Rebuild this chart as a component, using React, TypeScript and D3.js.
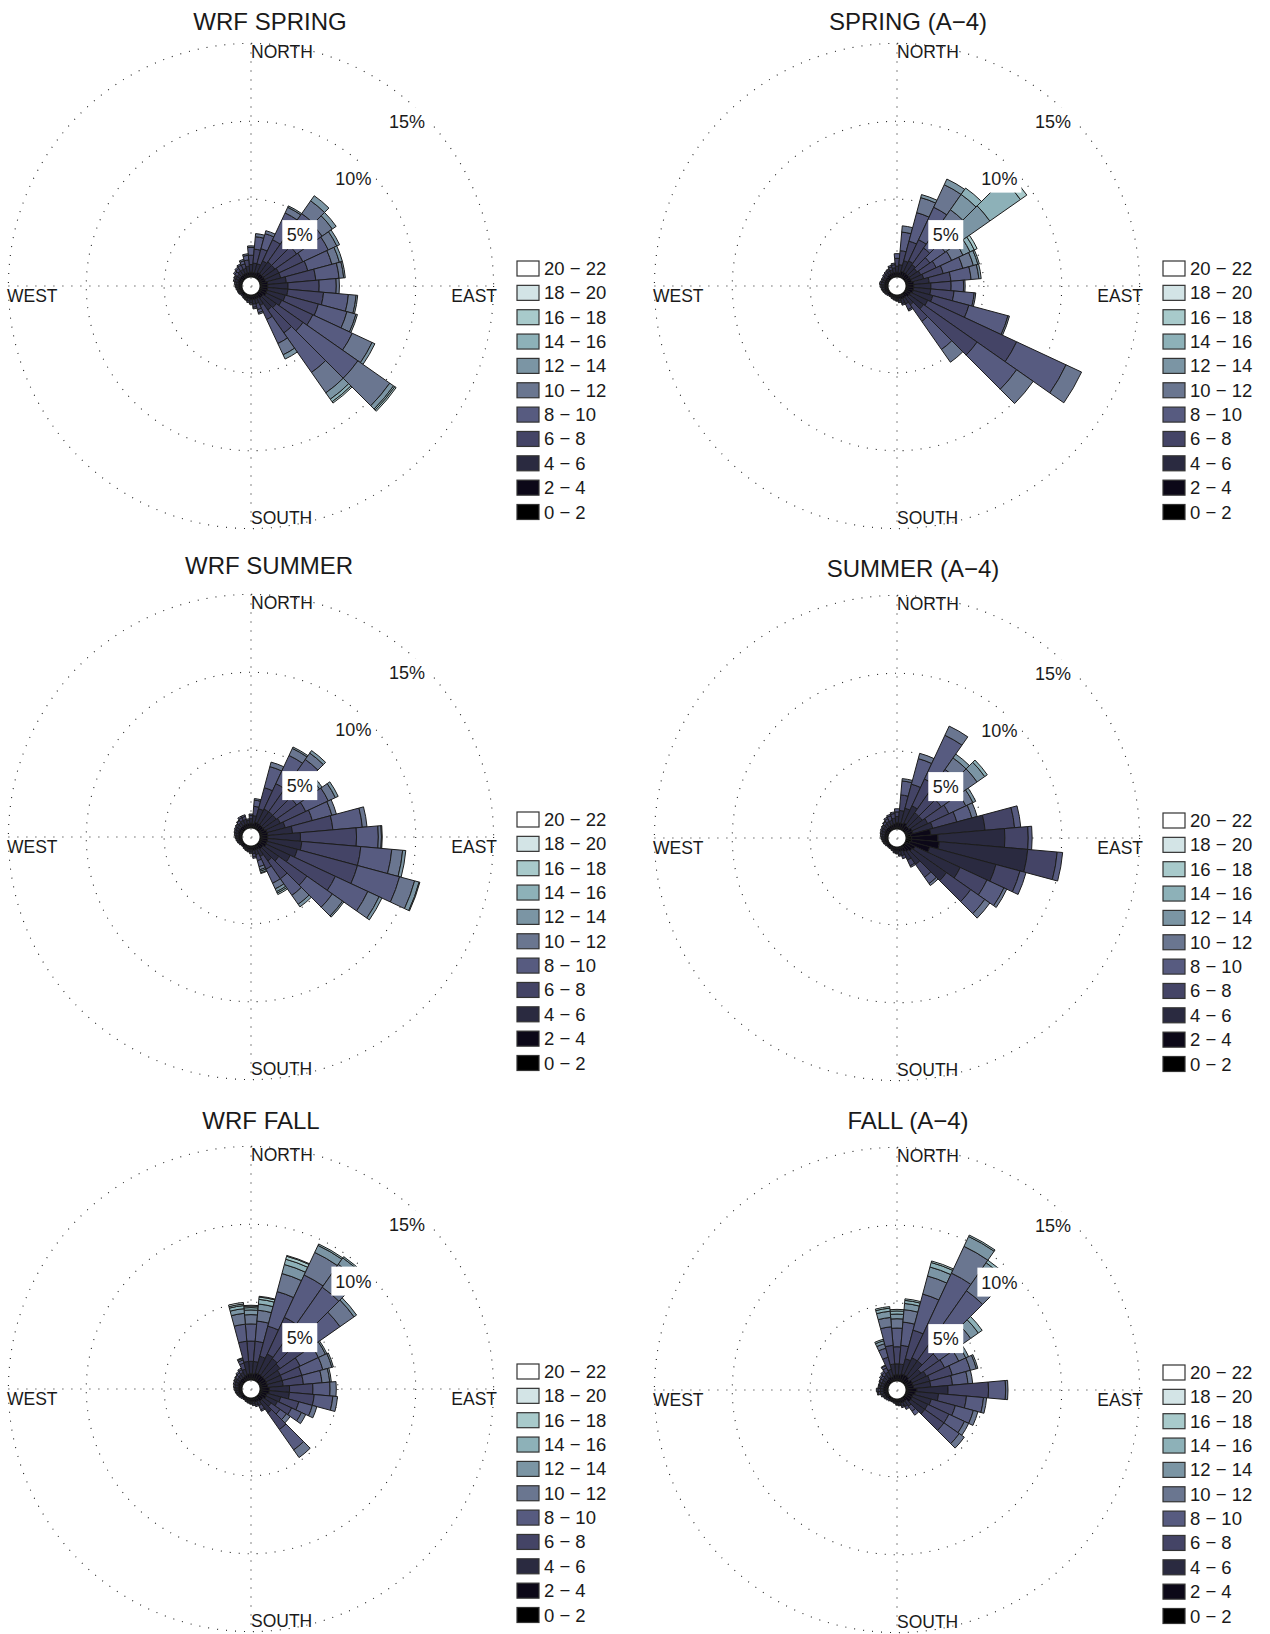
import React from 'react';
import * as d3 from 'd3';

// wind directions (deg, clockwise from north), one bar per 10 deg sector
const directions = [
  0, 10, 20, 30, 40, 50, 60, 70, 80, 90, 100, 110,
  120, 130, 140, 150, 160, 170, 180, 190, 200, 210, 220, 230,
  240, 250, 260, 270, 280, 290, 300, 310, 320, 330, 340, 350,
];

const speedBins = [
  '0 − 2', '2 − 4', '4 − 6', '6 − 8', '8 − 10', '10 − 12',
  '12 − 14', '14 − 16', '16 − 18', '18 − 20', '20 − 22',
];

const binColors = [
  '#000000', '#0c0818', '#2a2a40', '#444466', '#575b80', '#6a7690',
  '#7b95a4', '#8db1b8', '#a8cacb', '#d3e4e6', '#ffffff',
];

const ringPercents = [5, 10, 15];

// frequency (%) per speed bin, for each direction
const wrfSpring = [
  [0.1, 0.2, 0.5, 0.6, 0.5, 0.1],
  [0.1, 0.2, 0.6, 0.9, 0.8, 0.2],
  [0.1, 0.2, 0.6, 1.0, 1.0, 0.2],
  [0.1, 0.3, 0.8, 1.5, 1.9, 0.4, 0.1],
  [0.1, 0.3, 0.9, 1.7, 2.1, 1.0, 0.4],
  [0.1, 0.3, 0.9, 1.7, 2.0, 0.8, 0.3],
  [0.1, 0.3, 1.0, 1.7, 1.8, 0.6, 0.2],
  [0.1, 0.3, 1.0, 1.8, 1.6, 0.5, 0.2],
  [0.1, 0.4, 1.2, 1.9, 1.5, 0.3, 0.1],
  [0.1, 0.4, 1.3, 2.0, 1.1, 0.2],
  [0.1, 0.4, 1.3, 2.3, 1.6, 0.5, 0.1],
  [0.1, 0.4, 1.2, 2.2, 1.9, 0.6, 0.1],
  [0.1, 0.4, 1.1, 2.2, 2.8, 1.4, 0.2],
  [0.1, 0.3, 1.0, 2.1, 4.3, 2.5, 0.3, 0.1, 0.1],
  [0.1, 0.3, 0.9, 1.8, 3.1, 1.6, 0.5, 0.2, 0.1],
  [0.1, 0.2, 0.5, 1.0, 1.7, 0.8, 0.3],
  [0.1, 0.2, 0.3, 0.4, 0.2, 0.1],
  [0.1, 0.2, 0.3, 0.2, 0.1],
  [0.1, 0.2, 0.2, 0.1],
  [0.1, 0.15, 0.15, 0.1],
  [0.1, 0.15, 0.1, 0.05],
  [0.1, 0.1, 0.1, 0.05],
  [0.1, 0.1, 0.1],
  [0.1, 0.1, 0.1],
  [0.1, 0.1, 0.1, 0.05],
  [0.1, 0.1, 0.1, 0.05],
  [0.1, 0.15, 0.1, 0.05],
  [0.1, 0.15, 0.15, 0.05],
  [0.1, 0.15, 0.15, 0.1],
  [0.1, 0.2, 0.2, 0.1],
  [0.1, 0.2, 0.2, 0.1, 0.05],
  [0.1, 0.2, 0.2, 0.2, 0.1],
  [0.1, 0.2, 0.3, 0.2, 0.1],
  [0.1, 0.2, 0.3, 0.3, 0.1],
  [0.1, 0.2, 0.3, 0.3, 0.2, 0.1],
  [0.1, 0.2, 0.4, 0.4, 0.3, 0.1],
];

const a4Spring = [
  [0.1, 0.2, 0.4, 0.5, 0.3],
  [0.1, 0.2, 0.5, 0.9, 1.2, 0.4],
  [0.1, 0.3, 0.7, 1.3, 1.9, 1.0, 0.2],
  [0.1, 0.3, 0.8, 1.5, 2.3, 1.6, 0.4],
  [0.1, 0.3, 0.7, 1.3, 1.6, 1.4, 1.2, 0.5],
  [0.1, 0.3, 0.6, 1.0, 1.2, 1.3, 2.2, 2.4, 0.5],
  [0.1, 0.3, 0.7, 1.1, 1.1, 0.8, 0.5, 0.3, 0.2],
  [0.1, 0.3, 0.8, 1.3, 1.3, 0.7, 0.3, 0.1],
  [0.1, 0.4, 1.0, 1.4, 1.3, 0.5, 0.15],
  [0.1, 0.4, 1.1, 1.3, 0.8, 0.1],
  [0.1, 0.4, 1.1, 1.5, 1.3, 0.1],
  [0.1, 0.4, 1.3, 2.4, 2.6, 0.1],
  [0.1, 0.3, 1.2, 6.3, 3.5, 1.1],
  [0.1, 0.3, 1.1, 4.2, 3.1, 1.3],
  [0.1, 0.2, 0.6, 1.3, 2.2, 1.0],
  [0.1, 0.2, 0.4, 0.4, 0.1],
  [0.1, 0.2, 0.3, 0.1],
  [0.1, 0.15, 0.15, 0.1],
  [0.1, 0.15, 0.1, 0.05],
  [0.1, 0.1, 0.1, 0.05],
  [0.1, 0.1, 0.1],
  [0.1, 0.1, 0.05],
  [0.1, 0.1, 0.05],
  [0.1, 0.1, 0.1],
  [0.1, 0.1, 0.1, 0.05],
  [0.1, 0.15, 0.1, 0.05],
  [0.1, 0.15, 0.15, 0.05],
  [0.1, 0.15, 0.15, 0.1],
  [0.1, 0.15, 0.2, 0.1],
  [0.1, 0.15, 0.15, 0.1],
  [0.1, 0.15, 0.15, 0.1],
  [0.1, 0.15, 0.2, 0.1],
  [0.1, 0.2, 0.2, 0.1],
  [0.1, 0.2, 0.2, 0.1, 0.05],
  [0.1, 0.2, 0.2, 0.2, 0.1],
  [0.1, 0.2, 0.3, 0.2, 0.1],
];

const wrfSummer = [
  [0.1, 0.2, 0.3, 0.2, 0.1],
  [0.1, 0.2, 0.5, 0.6, 0.4, 0.1],
  [0.1, 0.3, 0.9, 1.4, 1.4, 0.3],
  [0.1, 0.3, 1.0, 1.8, 2.0, 0.5, 0.1],
  [0.1, 0.3, 1.0, 1.8, 2.3, 0.5, 0.2],
  [0.1, 0.3, 1.0, 1.6, 1.5, 0.3, 0.2],
  [0.1, 0.3, 1.1, 1.8, 1.6, 0.5, 0.2],
  [0.1, 0.4, 1.2, 1.8, 1.3, 0.3],
  [0.1, 0.4, 1.6, 2.6, 1.9, 0.3],
  [0.1, 0.4, 2.1, 3.6, 1.4, 0.2, 0.05],
  [0.1, 0.4, 2.2, 3.8, 2.0, 0.7, 0.2],
  [0.1, 0.4, 2.0, 4.0, 2.8, 1.0, 0.3, 0.05],
  [0.1, 0.4, 1.7, 3.2, 2.3, 0.8, 0.2],
  [0.1, 0.3, 1.2, 2.2, 2.0, 0.8, 0.1],
  [0.1, 0.3, 0.9, 1.4, 1.3, 0.7, 0.2],
  [0.1, 0.2, 0.5, 0.9, 1.0, 0.4, 0.2, 0.1, 0.1],
  [0.1, 0.2, 0.3, 0.4, 0.4, 0.2, 0.1, 0.1, 0.05],
  [0.1, 0.2, 0.2, 0.2, 0.1],
  [0.1, 0.15, 0.15, 0.1],
  [0.1, 0.15, 0.1, 0.05],
  [0.1, 0.1, 0.1, 0.05],
  [0.1, 0.1, 0.1],
  [0.1, 0.1, 0.05],
  [0.1, 0.1, 0.05],
  [0.1, 0.1, 0.1],
  [0.1, 0.1, 0.1, 0.05],
  [0.1, 0.15, 0.1, 0.05],
  [0.1, 0.15, 0.15, 0.05],
  [0.1, 0.15, 0.15, 0.1],
  [0.1, 0.2, 0.15, 0.1],
  [0.1, 0.2, 0.2, 0.1],
  [0.1, 0.2, 0.2, 0.1, 0.05],
  [0.1, 0.2, 0.25, 0.15, 0.05],
  [0.1, 0.2, 0.3, 0.2, 0.1],
  [0.1, 0.2, 0.3, 0.2, 0.1],
  [0.1, 0.2, 0.2, 0.1],
];

const a4Summer = [
  [0.1, 0.3, 0.4, 0.3, 0.2],
  [0.1, 0.3, 0.8, 1.0, 0.9, 0.15],
  [0.1, 0.3, 1.0, 1.6, 1.7, 0.35],
  [0.1, 0.4, 1.2, 1.9, 3.1, 0.65],
  [0.1, 0.3, 1.0, 1.5, 1.9, 0.9, 0.3],
  [0.1, 0.3, 1.0, 1.5, 1.7, 1.1, 0.6, 0.2],
  [0.1, 0.4, 1.1, 1.5, 1.2, 0.5, 0.2],
  [0.1, 0.4, 1.3, 1.6, 1.0, 0.35],
  [0.3, 1.3, 3.5, 1.9, 0.4],
  [0.35, 1.7, 4.3, 1.5, 0.25],
  [0.35, 1.8, 5.7, 1.9, 0.35],
  [0.3, 1.3, 4.4, 1.6, 0.4],
  [0.1, 0.6, 3.2, 1.9, 1.2, 0.2],
  [0.1, 0.5, 2.7, 1.9, 1.1, 0.4],
  [0.1, 0.4, 1.0, 1.0, 0.5, 0.15],
  [0.1, 0.3, 0.6, 0.4, 0.1],
  [0.1, 0.2, 0.3, 0.2],
  [0.1, 0.2, 0.2, 0.1],
  [0.1, 0.15, 0.15, 0.05],
  [0.1, 0.15, 0.1, 0.05],
  [0.1, 0.1, 0.1],
  [0.1, 0.1, 0.05],
  [0.1, 0.1, 0.05],
  [0.1, 0.1, 0.05],
  [0.1, 0.1, 0.1],
  [0.1, 0.1, 0.1, 0.05],
  [0.1, 0.15, 0.1, 0.05],
  [0.1, 0.15, 0.15, 0.05],
  [0.1, 0.15, 0.15, 0.1],
  [0.1, 0.15, 0.2, 0.1],
  [0.1, 0.2, 0.2, 0.1],
  [0.1, 0.2, 0.2, 0.1, 0.05],
  [0.1, 0.2, 0.25, 0.15, 0.05],
  [0.1, 0.2, 0.3, 0.2, 0.1],
  [0.1, 0.2, 0.3, 0.3, 0.1],
  [0.1, 0.25, 0.35, 0.3, 0.1],
];

const wrfFall = [
  [0.1, 0.3, 0.8, 1.3, 1.1, 0.6, 0.3, 0.15, 0.1, 0.05],
  [0.1, 0.3, 0.8, 1.3, 1.3, 0.7, 0.4, 0.3, 0.15, 0.05],
  [0.1, 0.4, 1.1, 2.0, 2.3, 1.2, 0.6, 0.35, 0.2, 0.05],
  [0.1, 0.4, 1.4, 2.6, 3.0, 1.6, 0.5, 0.1],
  [0.1, 0.4, 1.3, 2.5, 3.1, 1.8, 0.5, 0.1],
  [0.1, 0.4, 1.2, 2.1, 2.6, 1.1, 0.2],
  [0.1, 0.4, 1.0, 1.4, 1.3, 0.5, 0.1],
  [0.1, 0.4, 1.0, 1.3, 1.4, 0.6, 0.1],
  [0.1, 0.4, 1.0, 1.3, 1.2, 0.5, 0.1],
  [0.1, 0.5, 1.3, 1.5, 1.1, 0.4],
  [0.1, 0.5, 1.3, 1.6, 1.2, 0.3],
  [0.1, 0.4, 0.9, 1.2, 0.9, 0.3],
  [0.1, 0.4, 0.8, 1.0, 0.7, 0.3],
  [0.1, 0.3, 0.6, 0.7, 0.5, 0.3],
  [0.1, 0.3, 0.9, 1.3, 1.6, 0.6],
  [0.1, 0.2, 0.3, 0.3, 0.1],
  [0.1, 0.2, 0.2, 0.1],
  [0.1, 0.15, 0.15, 0.1],
  [0.1, 0.15, 0.1, 0.05],
  [0.1, 0.1, 0.1, 0.05],
  [0.1, 0.1, 0.1],
  [0.1, 0.1, 0.05],
  [0.1, 0.1, 0.05],
  [0.1, 0.1, 0.1],
  [0.1, 0.1, 0.1, 0.05],
  [0.1, 0.15, 0.1, 0.05],
  [0.1, 0.15, 0.15, 0.05],
  [0.1, 0.15, 0.15, 0.1],
  [0.1, 0.15, 0.2, 0.1],
  [0.1, 0.2, 0.2, 0.1],
  [0.1, 0.2, 0.2, 0.1, 0.05],
  [0.1, 0.2, 0.2, 0.15, 0.05],
  [0.1, 0.2, 0.25, 0.15, 0.1],
  [0.1, 0.2, 0.3, 0.2, 0.1],
  [0.1, 0.25, 0.4, 0.4, 0.2, 0.1, 0.05],
  [0.1, 0.3, 0.8, 1.3, 1.1, 0.7, 0.3, 0.2, 0.1, 0.1],
];

const a4Fall = [
  [0.1, 0.3, 0.7, 1.1, 1.2, 0.6, 0.3, 0.2, 0.1],
  [0.1, 0.3, 0.7, 1.2, 1.5, 0.8, 0.4, 0.2, 0.1],
  [0.1, 0.4, 1.0, 1.9, 2.4, 1.2, 0.6, 0.3, 0.1],
  [0.1, 0.4, 1.2, 2.4, 3.6, 1.9, 0.7, 0.1],
  [0.1, 0.4, 1.2, 2.3, 3.2, 1.6, 0.6, 0.2],
  [0.1, 0.3, 0.9, 1.4, 1.6, 0.9, 0.6, 0.3],
  [0.1, 0.4, 1.0, 1.3, 1.0, 0.5, 0.2],
  [0.1, 0.4, 1.1, 1.5, 1.2, 0.4, 0.1],
  [0.1, 0.4, 1.1, 1.4, 1.0, 0.3],
  [0.1, 0.6, 2.0, 2.6, 1.1, 0.15],
  [0.1, 0.5, 1.5, 1.8, 1.1, 0.2],
  [0.1, 0.4, 1.2, 1.6, 1.2, 0.3],
  [0.1, 0.4, 1.1, 1.5, 1.1, 0.3],
  [0.1, 0.4, 1.1, 1.5, 1.2, 0.4],
  [0.1, 0.2, 0.4, 0.4, 0.3],
  [0.1, 0.2, 0.3, 0.2],
  [0.1, 0.2, 0.2, 0.1],
  [0.1, 0.15, 0.15, 0.05],
  [0.1, 0.15, 0.1, 0.05],
  [0.1, 0.1, 0.1],
  [0.1, 0.1, 0.05],
  [0.1, 0.1, 0.05],
  [0.1, 0.1, 0.1],
  [0.1, 0.1, 0.1, 0.05],
  [0.1, 0.15, 0.1, 0.05],
  [0.1, 0.15, 0.15, 0.1],
  [0.1, 0.2, 0.2, 0.15, 0.05],
  [0.1, 0.2, 0.2, 0.15, 0.1],
  [0.1, 0.2, 0.2, 0.1, 0.05],
  [0.1, 0.2, 0.2, 0.1, 0.05],
  [0.1, 0.2, 0.2, 0.15, 0.05],
  [0.1, 0.2, 0.25, 0.15, 0.1],
  [0.1, 0.2, 0.3, 0.2, 0.1],
  [0.1, 0.25, 0.35, 0.3, 0.15, 0.05],
  [0.1, 0.2, 0.5, 0.8, 0.6, 0.3, 0.2, 0.1],
  [0.1, 0.3, 0.7, 1.2, 1.2, 0.6, 0.4, 0.2, 0.1],
];

const panels = [
  { title: 'WRF SPRING', data: wrfSpring, cx: 251, cy: 286, titleDx: 19, titleDy: -265 },
  { title: 'SPRING (A−4)', data: a4Spring, cx: 897, cy: 286, titleDx: 11, titleDy: -265 },
  { title: 'WRF SUMMER', data: wrfSummer, cx: 251, cy: 837, titleDx: 18, titleDy: -272 },
  { title: 'SUMMER (A−4)', data: a4Summer, cx: 897, cy: 838, titleDx: 16, titleDy: -270 },
  { title: 'WRF FALL', data: wrfFall, cx: 251, cy: 1389, titleDx: 10, titleDy: -269 },
  { title: 'FALL (A−4)', data: a4Fall, cx: 897, cy: 1390, titleDx: 11, titleDy: -270 },
];

const FONT = '"Liberation Sans", Arial, Helvetica, sans-serif';
const rScale = d3.scaleLinear().domain([0, 15]).range([9, 242.6]);
const arc = d3.arc<{ inner: number; outer: number; a0: number; a1: number }>()
  .innerRadius(d => d.inner)
  .outerRadius(d => d.outer)
  .startAngle(d => d.a0)
  .endAngle(d => d.a1);
const toRad = (deg: number) => (deg * Math.PI) / 180;

const Rose: React.FC<{ panel: typeof panels[number] }> = ({ panel }) => {
  const { cx, cy, data, title } = panel;
  const rMax = rScale(15);
  const dotted = { stroke: '#222', strokeWidth: 1.1, strokeDasharray: '1 8', fill: 'none' };

  const segments: { d: string; fill: string; key: string }[] = [];
  directions.forEach((dir, i) => {
    let cum = 0;
    data[i].forEach((v, b) => {
      if (v <= 0) return;
      segments.push({
        key: `${i}-${b}`,
        fill: binColors[b],
        d: arc({ inner: rScale(cum), outer: rScale(cum + v), a0: toRad(dir - 5), a1: toRad(dir + 5) }) || '',
      });
      cum += v;
    });
  });

  const labelAngle = toRad(43.5);

  return (
    <g>
      <text x={cx + panel.titleDx} y={cy + panel.titleDy + 8.5} textAnchor="middle"
        fontFamily={FONT} fontSize={24} fill="#1a1a1a">{title}</text>
      <g transform={`translate(${cx},${cy})`}>
        {ringPercents.map(p => (
          <circle key={p} r={rScale(p)} {...dotted} />
        ))}
        <line x1={-rMax} x2={rMax} y1={0} y2={0} {...dotted} />
        <line x1={0} x2={0} y1={-rMax} y2={rMax} {...dotted} />
        {segments.map(s => (
          <path key={s.key} d={s.d} fill={s.fill} stroke="#1c1c1c" strokeWidth={1} strokeLinejoin="round" />
        ))}
        {ringPercents.map(p => {
          const rr = rScale(p) - 16;
          const x = Math.sin(labelAngle) * rr;
          const y = -Math.cos(labelAngle) * rr;
          const w = p < 10 ? 35 : 44;
          return (
            <g key={p}>
              <rect x={x - w / 2} y={y - 14.5} width={w} height={29} fill="#fff" />
              <text x={x} y={y + 6.5} textAnchor="middle" fontFamily={FONT} fontSize={18} fill="#1a1a1a">{p}%</text>
            </g>
          );
        })}
        <text x={0} y={-228} fontFamily={FONT} fontSize={17.5} fill="#1a1a1a">NORTH</text>
        <text x={0} y={238} fontFamily={FONT} fontSize={17.5} fill="#1a1a1a">SOUTH</text>
        <text x={-244} y={16} fontFamily={FONT} fontSize={17.5} fill="#1a1a1a">WEST</text>
        <text x={246} y={16} textAnchor="end" fontFamily={FONT} fontSize={17.5} fill="#1a1a1a">EAST</text>
      </g>
      <g transform={`translate(${cx + 266},${cy - 17.5})`}>
        {speedBins.map((label, b) => {
          const y = (speedBins.length - 1 - b) * 24.35;
          return (
            <g key={label} transform={`translate(0,${y})`}>
              <rect x={0} y={-7.5} width={22} height={15} fill={binColors[b]} stroke="#333" strokeWidth={1.2} />
              <text x={27} y={6.5} fontFamily={FONT} fontSize={18.5} fill="#1a1a1a">{label}</text>
            </g>
          );
        })}
      </g>
    </g>
  );
};

export default function App() {
  return (
    <svg width={1270} height={1634} style={{ position: 'absolute', left: 0, top: 0, background: '#fff' }}>
      <rect width={1270} height={1634} fill="#fff" />
      {panels.map(p => (
        <Rose key={p.title} panel={p} />
      ))}
    </svg>
  );
}
